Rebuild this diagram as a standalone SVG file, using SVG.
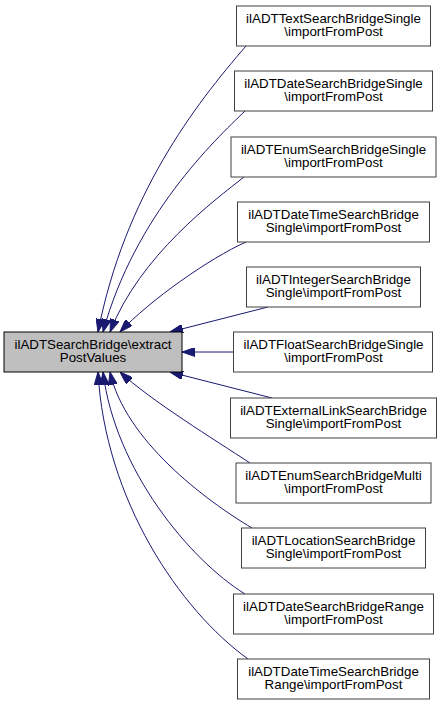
<svg xmlns="http://www.w3.org/2000/svg" width="441" height="705" viewBox="0 0 441 705">
<style>
.n rect{fill:#ffffff;stroke:#404040;stroke-width:1}
.root rect{fill:#bfbfbf;stroke:#000000;stroke-width:1}
text{font-family:"Liberation Sans",Arial,Helvetica,sans-serif;font-size:13.33px;fill:#000000;text-anchor:middle}
.e path{fill:none;stroke:#191970;stroke-width:1;marker-end:url(#ah)}
</style>
<defs>
<marker id="ah" viewBox="0 0 13 9" refX="13" refY="4.5" markerWidth="13" markerHeight="9" markerUnits="userSpaceOnUse" orient="auto">
<path d="M0,0 L13,4.5 L0,9 z" fill="#191970" stroke="#191970" stroke-width="1"/>
</marker>
</defs>
<rect x="0" y="0" width="441" height="705" fill="#ffffff"/>
<g id="edges" class="e">
<path d="M246,46 C195,105 125,195 98,332"/>
<path d="M245,111 C215,140 135,215 103,332"/>
<path d="M244,177 C215,200 140,255 110,332"/>
<path d="M246,242 C210,258 150,300 120,332"/>
<path d="M268,307 L170,332"/>
<path d="M233,352 L182,352"/>
<path d="M272,398 L170,372"/>
<path d="M250,463 C215,440 150,400 120,372"/>
<path d="M252,528 C205,500 125,440 110,372"/>
<path d="M245,594 C190,560 115,470 103,372"/>
<path d="M248,659 C180,610 105,500 98,372"/>
</g>
<g id="root" class="root">
<rect x="4" y="332" width="178" height="40"/>
<text x="93" y="348.5">ilADTSearchBridge\extract</text>
<text x="93" y="362">PostValues</text>
</g>
<g id="n1" class="n">
<rect x="236.5" y="6" width="194" height="40"/>
<text x="333.5" y="22.5">ilADTTextSearchBridgeSingle</text>
<text x="333.5" y="36">\importFromPost</text>
</g>
<g id="n2" class="n">
<rect x="234.5" y="71" width="198" height="40"/>
<text x="333.5" y="87.5">ilADTDateSearchBridgeSingle</text>
<text x="333.5" y="101">\importFromPost</text>
</g>
<g id="n3" class="n">
<rect x="231" y="137" width="205" height="40"/>
<text x="333.5" y="153.5">ilADTEnumSearchBridgeSingle</text>
<text x="333.5" y="167">\importFromPost</text>
</g>
<g id="n4" class="n">
<rect x="237.5" y="202" width="192" height="40"/>
<text x="333.5" y="218.5">ilADTDateTimeSearchBridge</text>
<text x="333.5" y="232">Single\importFromPost</text>
</g>
<g id="n5" class="n">
<rect x="246.5" y="267" width="174" height="40"/>
<text x="333.5" y="283.5">ilADTIntegerSearchBridge</text>
<text x="333.5" y="297">Single\importFromPost</text>
</g>
<g id="n6" class="n">
<rect x="233.5" y="332" width="199" height="40"/>
<text x="333.5" y="348.5">ilADTFloatSearchBridgeSingle</text>
<text x="333.5" y="362">\importFromPost</text>
</g>
<g id="n7" class="n">
<rect x="230.5" y="398" width="206" height="40"/>
<text x="333.5" y="414.5">ilADTExternalLinkSearchBridge</text>
<text x="333.5" y="428">Single\importFromPost</text>
</g>
<g id="n8" class="n">
<rect x="236" y="463" width="195" height="40"/>
<text x="333.5" y="479.5">ilADTEnumSearchBridgeMulti</text>
<text x="333.5" y="493">\importFromPost</text>
</g>
<g id="n9" class="n">
<rect x="241.5" y="528" width="184" height="40"/>
<text x="333.5" y="544.5">ilADTLocationSearchBridge</text>
<text x="333.5" y="558">Single\importFromPost</text>
</g>
<g id="n10" class="n">
<rect x="233.5" y="594" width="200" height="40"/>
<text x="333.5" y="610.5">ilADTDateSearchBridgeRange</text>
<text x="333.5" y="624">\importFromPost</text>
</g>
<g id="n11" class="n">
<rect x="237.5" y="659" width="192" height="40"/>
<text x="333.5" y="675.5">ilADTDateTimeSearchBridge</text>
<text x="333.5" y="689">Range\importFromPost</text>
</g>
</svg>
